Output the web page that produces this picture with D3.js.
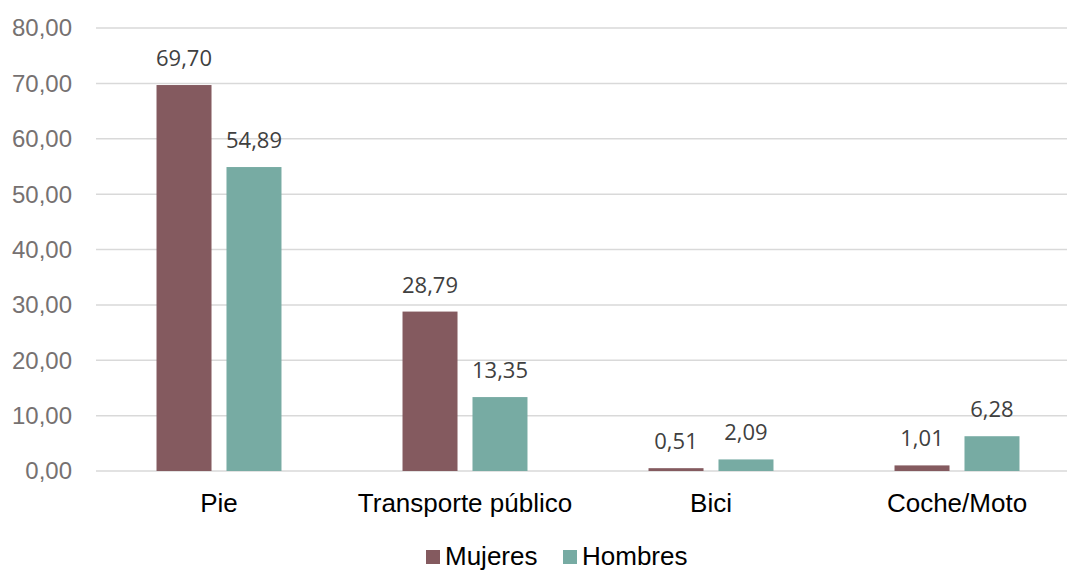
<!DOCTYPE html>
<html>
<head>
<meta charset="utf-8">
<script src="https://cdn.jsdelivr.net/npm/d3@7"></script>
<style>
  html, body { margin: 0; padding: 0; background: #fff; }
  svg { display: block; }
</style>
</head>
<body>
<div id="chart"></div>
<script>
// datos
const categories = ["Pie", "Transporte público", "Bici", "Coche/Moto"];
const seriesNames = ["Mujeres", "Hombres"];
const mujeres = [69.70, 28.79, 0.51, 1.01];
const hombres = [54.89, 13.35, 2.09, 6.28];
const yTicks = [0, 10, 20, 30, 40, 50, 60, 70, 80];

const colors = ["#845A5F", "#77ABA3"];

const width = 1067, height = 571;
const plot = {left: 96, right: 1080, top: 28, bottom: 471};

const fmt = v => v.toFixed(2).replace(".", ",");

const svg = d3.select("#chart")
  .append("svg")
    .attr("width", width)
    .attr("height", height);

// escalas
const x = d3.scaleBand()
  .domain(categories)
  .range([plot.left, plot.right])
  .paddingInner(0.492)
  .paddingOuter(0.246);

const xSub = d3.scaleBand()
  .domain(seriesNames)
  .range([0, x.bandwidth()])
  .paddingInner(0.214);

const y = d3.scaleLinear()
  .domain([0, 80])
  .range([plot.bottom, plot.top]);

// líneas de cuadrícula
svg.append("g")
  .selectAll("line")
  .data(yTicks)
  .join("line")
    .attr("x1", plot.left)
    .attr("x2", width)
    .attr("y1", d => y(d))
    .attr("y2", d => y(d))
    .attr("stroke", "#d9d9d9")
    .attr("stroke-width", 1.5);

// etiquetas eje Y
svg.append("g")
  .selectAll("text")
  .data(yTicks)
  .join("text")
    .attr("x", 72)
    .attr("y", d => y(d))
    .attr("dy", "0.35em")
    .attr("text-anchor", "end")
    .attr("font-family", "Arial, 'Liberation Sans', sans-serif")
    .attr("font-size", 24)
    .attr("fill", "#767171")
    .text(d => fmt(d));

// barras
const rows = categories.map((c, i) => ({
  category: c,
  values: [
    {name: seriesNames[0], value: mujeres[i], color: colors[0]},
    {name: seriesNames[1], value: hombres[i], color: colors[1]}
  ]
}));

const groups = svg.append("g")
  .selectAll("g")
  .data(rows)
  .join("g")
    .attr("transform", d => `translate(${x(d.category)},0)`);

groups.selectAll("rect")
  .data(d => d.values)
  .join("rect")
    .attr("x", d => xSub(d.name))
    .attr("y", d => y(d.value))
    .attr("width", xSub.bandwidth())
    .attr("height", d => y(0) - y(d.value))
    .attr("fill", d => d.color);

groups.selectAll("text")
  .data(d => d.values)
  .join("text")
    .attr("x", d => xSub(d.name) + xSub.bandwidth() / 2)
    .attr("y", d => y(d.value) - 19)
    .attr("text-anchor", "middle")
    .attr("font-family", "'Open Sans', sans-serif")
    .attr("font-size", 22)
    .attr("fill", "#404040")
    .text(d => fmt(d.value));

// etiquetas de categoría
svg.append("g")
  .selectAll("text")
  .data(categories)
  .join("text")
    .attr("x", d => x(d) + x.bandwidth() / 2)
    .attr("y", 512)
    .attr("text-anchor", "middle")
    .attr("font-family", "Arial, 'Liberation Sans', sans-serif")
    .attr("font-size", 26)
    .attr("fill", "#000")
    .text(d => d);

// leyenda
const legendX = [426, 563];
const legend = svg.append("g")
  .selectAll("g")
  .data(seriesNames)
  .join("g")
    .attr("transform", (d, i) => `translate(${legendX[i]},550)`);

legend.append("rect")
  .attr("width", 14)
  .attr("height", 14)
  .attr("fill", (d, i) => colors[i]);

legend.append("text")
  .attr("x", 19)
  .attr("y", 15)
  .attr("font-family", "Arial, 'Liberation Sans', sans-serif")
  .attr("font-size", 26)
  .attr("fill", "#000")
  .text(d => d);
</script>
</body>
</html>
